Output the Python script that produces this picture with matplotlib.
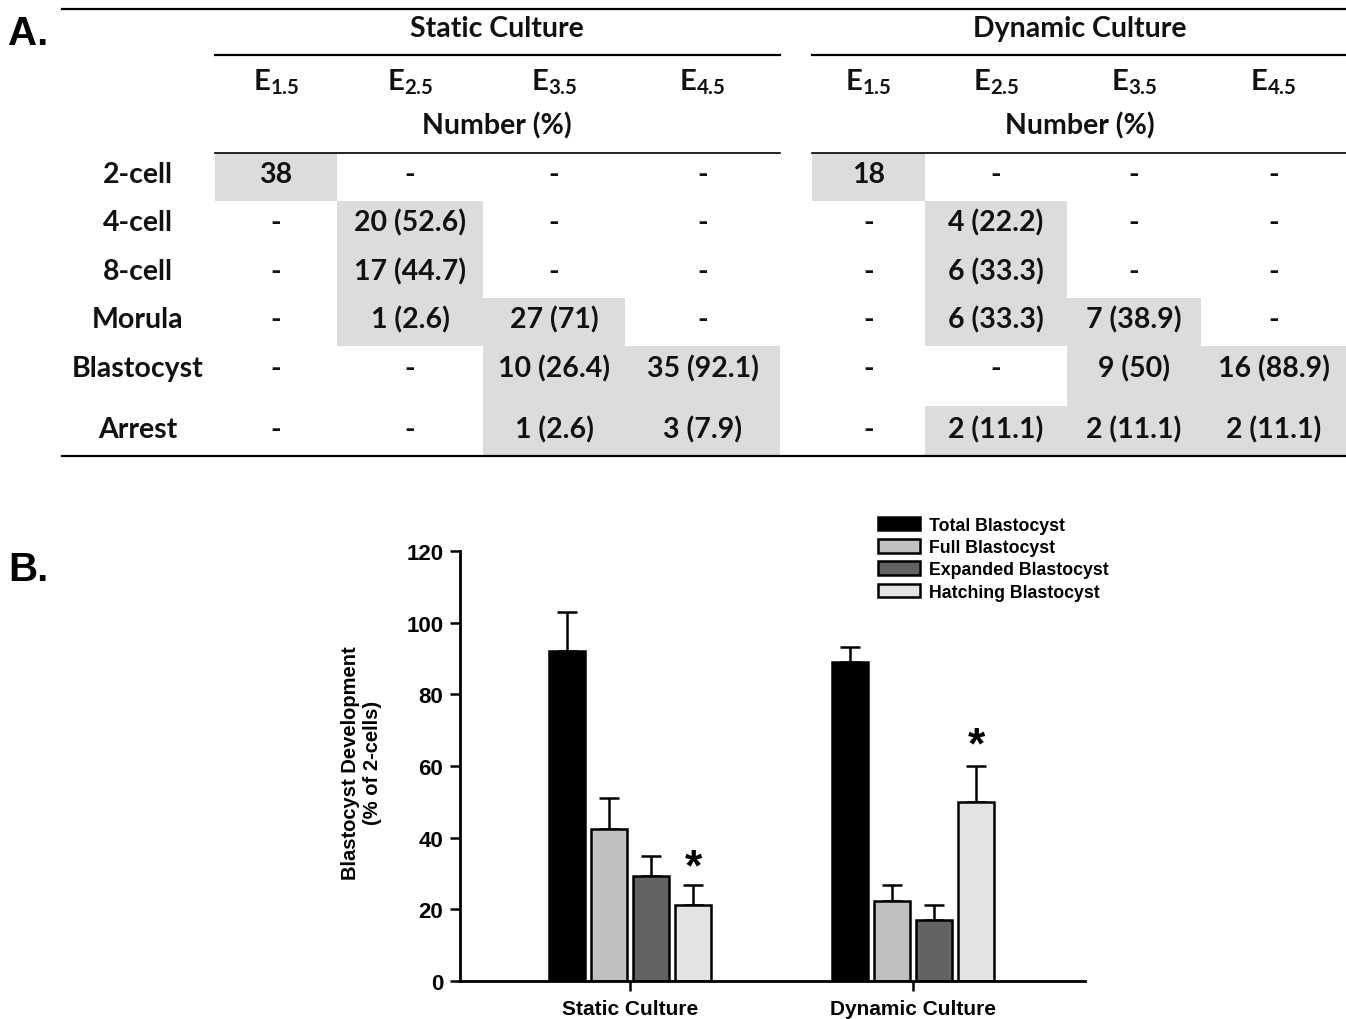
import matplotlib.pyplot as plt
from matplotlib.patches import Rectangle

# ---- Table data (panel A) ----
stages = ["2-cell", "4-cell", "8-cell", "Morula", "Blastocyst", "Arrest"]
days = ["1.5", "2.5", "3.5", "4.5"]
groups = ["Static Culture", "Dynamic Culture"]

static_cells = [
    ["38", "-", "-", "-"],
    ["-", "20 (52.6)", "-", "-"],
    ["-", "17 (44.7)", "-", "-"],
    ["-", "1 (2.6)", "27 (71)", "-"],
    ["-", "-", "10 (26.4)", "35 (92.1)"],
    ["-", "-", "1 (2.6)", "3 (7.9)"],
]
dynamic_cells = [
    ["18", "-", "-", "-"],
    ["-", "4 (22.2)", "-", "-"],
    ["-", "6 (33.3)", "-", "-"],
    ["-", "6 (33.3)", "7 (38.9)", "-"],
    ["-", "-", "9 (50)", "16 (88.9)"],
    ["-", "2 (11.1)", "2 (11.1)", "2 (11.1)"],
]
static_shade = [
    [1, 0, 0, 0],
    [0, 1, 0, 0],
    [0, 1, 0, 0],
    [0, 1, 1, 0],
    [0, 0, 1, 1],
    [0, 0, 1, 1],
]
dynamic_shade = [
    [1, 0, 0, 0],
    [0, 1, 0, 0],
    [0, 1, 0, 0],
    [0, 1, 1, 0],
    [0, 0, 1, 1],
    [0, 1, 1, 1],
]

# ---- Bar data (panel B) ----
conditions = ["Static Culture", "Dynamic Culture"]
series = ["Total Blastocyst", "Full Blastocyst", "Expanded Blastocyst", "Hatching Blastocyst"]
means = {
    "Total Blastocyst": [92.1, 88.9],
    "Full Blastocyst": [42.5, 22.2],
    "Expanded Blastocyst": [29.2, 17.0],
    "Hatching Blastocyst": [21.1, 50.0],
}
errors = {
    "Total Blastocyst": [11.0, 4.4],
    "Full Blastocyst": [8.6, 4.6],
    "Expanded Blastocyst": [5.8, 4.3],
    "Hatching Blastocyst": [5.7, 10.0],
}
star_level = [31.5, 65.5]

colors = ["#000000", "#c0c0c0", "#636363", "#e3e3e3"]

plt.rcParams["mathtext.fontset"] = "custom"
plt.rcParams["mathtext.bf"] = "Lato:bold"
plt.rcParams["mathtext.rm"] = "Lato:bold"

fig = plt.figure(figsize=(13.46, 10.2), dpi=100)

# full-figure axes in pixel coordinates for the table
ax0 = fig.add_axes([0, 0, 1, 1])
ax0.set_xlim(0, 1346)
ax0.set_ylim(1020, 0)
ax0.axis("off")

tfont = dict(family="Lato", fontweight="bold", fontsize=20.5, color="#111111")

row_edges = [154, 202, 250, 299, 347, 407, 457]
row_text_y = [175, 223, 272, 320, 369, 430]
col_edges = [[215, 337, 483, 625, 780], [812, 925, 1067, 1201, 1346]]
group_mid = [497, 1080]
label_x = 138

ax0.text(8, 34, "A.", family="Liberation Sans", fontweight="heavy", fontsize=29,
         va="center", ha="left")
ax0.text(8, 570, "B.", family="Liberation Sans", fontweight="heavy", fontsize=29,
         va="center", ha="left")

ax0.plot([62, 1346], [10, 10], color="black", lw=1.6)
ax0.plot([62, 1346], [457, 457], color="black", lw=1.6)

for g, (cells, shade, edges) in enumerate(zip([static_cells, dynamic_cells],
                                               [static_shade, dynamic_shade], col_edges)):
    left, right = edges[0], edges[-1]
    mid = group_mid[g]
    ax0.text(mid, 29, groups[g], ha="center", va="center", **tfont)
    ax0.plot([left, right], [56, 56], color="black", lw=1.6)
    ax0.plot([left, right], [154, 154], color="black", lw=1.2)
    ax0.text(mid, 126, "Number (%)", ha="center", va="center", **tfont)
    for j, d in enumerate(days):
        cx = (edges[j] + edges[j + 1]) / 2
        ax0.text(cx, 82, r"$\mathbf{E_{%s}}$" % d, ha="center", va="center",
                 fontsize=21, color="#111111")
    for i in range(len(stages)):
        for j in range(len(days)):
            if shade[i][j]:
                ax0.add_patch(Rectangle((edges[j], row_edges[i]), edges[j + 1] - edges[j],
                                        row_edges[i + 1] - row_edges[i],
                                        facecolor="#dcdcdc", edgecolor="none", zorder=0))
            cx = (edges[j] + edges[j + 1]) / 2
            ax0.text(cx, row_text_y[i], cells[i][j], ha="center", va="center", **tfont)

for i, s in enumerate(stages):
    ax0.text(label_x, row_text_y[i], s, ha="center", va="center", **tfont)

# ---- Bar chart ----
ax = fig.add_axes([460 / 1346, 38 / 1020, 625 / 1346, 430 / 1020])
x = [0, 1]
spacing = 42 / 283
width = 36 / 283
for k, name in enumerate(series):
    off = (k - 1.5) * spacing
    xs = [xi + off for xi in x]
    ax.bar(xs, means[name], width=width, color=colors[k], edgecolor="black",
           linewidth=1.8, label=name, zorder=2)
    ax.errorbar(xs, means[name], yerr=[[0, 0], errors[name]], fmt="none",
                ecolor="black", elinewidth=1.8, capsize=7, capthick=1.8, zorder=1)

star_x = [xi + 1.5 * spacing for xi in x]
for sx, sy in zip(star_x, star_level):
    ax.text(sx, sy, "*", ha="center", va="center", fontsize=32,
            family="Liberation Sans", fontweight="bold")

ax.set_xlim((460 - 630) / 283, (1085 - 630) / 283)
ax.set_ylim(0, 120)
ax.set_yticks(range(0, 121, 20))
ax.set_xticks(x)
ax.set_xticklabels(conditions)
for sp in ["top", "right"]:
    ax.spines[sp].set_visible(False)
for sp in ["left", "bottom"]:
    ax.spines[sp].set_linewidth(2.0)
ax.tick_params(axis="both", width=1.8, length=7, direction="out")
ax.tick_params(axis="x", pad=6)
ax.tick_params(axis="y", pad=5)
ax.patch.set_alpha(0)
for lab in ax.get_yticklabels():
    lab.set_fontfamily("Liberation Sans")
    lab.set_fontweight("bold")
    lab.set_fontsize(16)
for lab in ax.get_xticklabels():
    lab.set_fontfamily("Liberation Sans")
    lab.set_fontweight("bold")
    lab.set_fontsize(15)

ax.set_ylabel("Blastocyst Development\n(% of 2-cells)", family="Liberation Sans",
              fontweight="bold", fontsize=14.5, linespacing=1.2)
ax.yaxis.set_label_coords(-0.125, 0.51)

leg = ax.legend(loc="upper left", bbox_to_anchor=(0.668, 1.08), frameon=False,
                prop=dict(family="Liberation Sans", weight="bold", size=12.8),
                handlelength=2.4, handleheight=0.8, labelspacing=0.3,
                handletextpad=0.5, borderaxespad=0, borderpad=0)
for h in leg.legend_handles:
    h.set_linewidth(1.8)

fig.savefig("out.png", dpi=100)
